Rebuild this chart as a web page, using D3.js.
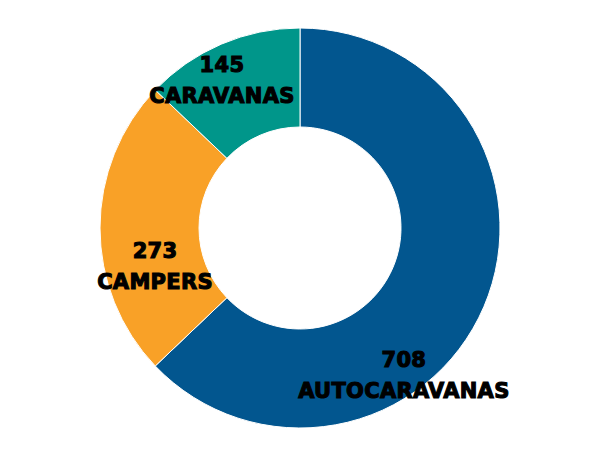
<!DOCTYPE html>
<html>
<head>
<meta charset="utf-8">
<script src="https://cdn.jsdelivr.net/npm/d3@7"></script>
<style>
  body { margin: 0; background: #fff; }
  .label { font-family: "DejaVu Sans", sans-serif; font-weight: bold; fill: #000; stroke: #000; stroke-width: 1.1px; letter-spacing: 0.3px; }
</style>
</head>
<body>
<svg width="600" height="463"></svg>
<script>
// data for the donut
var categories = ["AUTOCARAVANAS", "CAMPERS", "CARAVANAS"];
var values = [708, 273, 145];
var colors = ["#02568f", "#f9a127", "#00968a"];
// label nudges from the slice centroid
var labelDx = [-34, 5, -19],
    labelDy = [80, 30, -18];

var svg = d3.select("svg"),
    width = +svg.attr("width"),
    height = +svg.attr("height"),
    outer = 200,
    inner = 101;

var data = categories.map(function(c, i) {
  return {name: c, value: values[i], color: colors[i], dx: labelDx[i], dy: labelDy[i]};
});

var g = svg.append("g")
    .attr("transform", "translate(300,228)");

var pie = d3.pie().sort(null).value(function(d) { return d.value; });
var arc = d3.arc().innerRadius(inner).outerRadius(outer);
var mid = d3.arc().innerRadius(150).outerRadius(150);

var arcs = pie(data);

g.selectAll(".slice")
  .data(arcs)
  .enter().append("path")
    .attr("class", "slice")
    .attr("d", arc)
    .attr("fill", function(d) { return d.data.color; })
    .attr("stroke", "#fff")
    .attr("stroke-width", 1);

var labels = g.selectAll(".label")
  .data(arcs)
  .enter().append("text")
    .attr("class", "label")
    .attr("text-anchor", "middle")
    .style("font-size", "21px")
    .attr("transform", function(d) {
      var c = mid.centroid(d);
      return "translate(" + (c[0] + d.data.dx) + "," + (c[1] + d.data.dy) + ")";
    });

labels.append("tspan")
    .attr("x", 0)
    .attr("y", 0)
    .text(function(d) { return d.data.value; });

labels.append("tspan")
    .attr("x", 0)
    .attr("y", 31)
    .text(function(d) { return d.data.name; });
</script>
</body>
</html>
